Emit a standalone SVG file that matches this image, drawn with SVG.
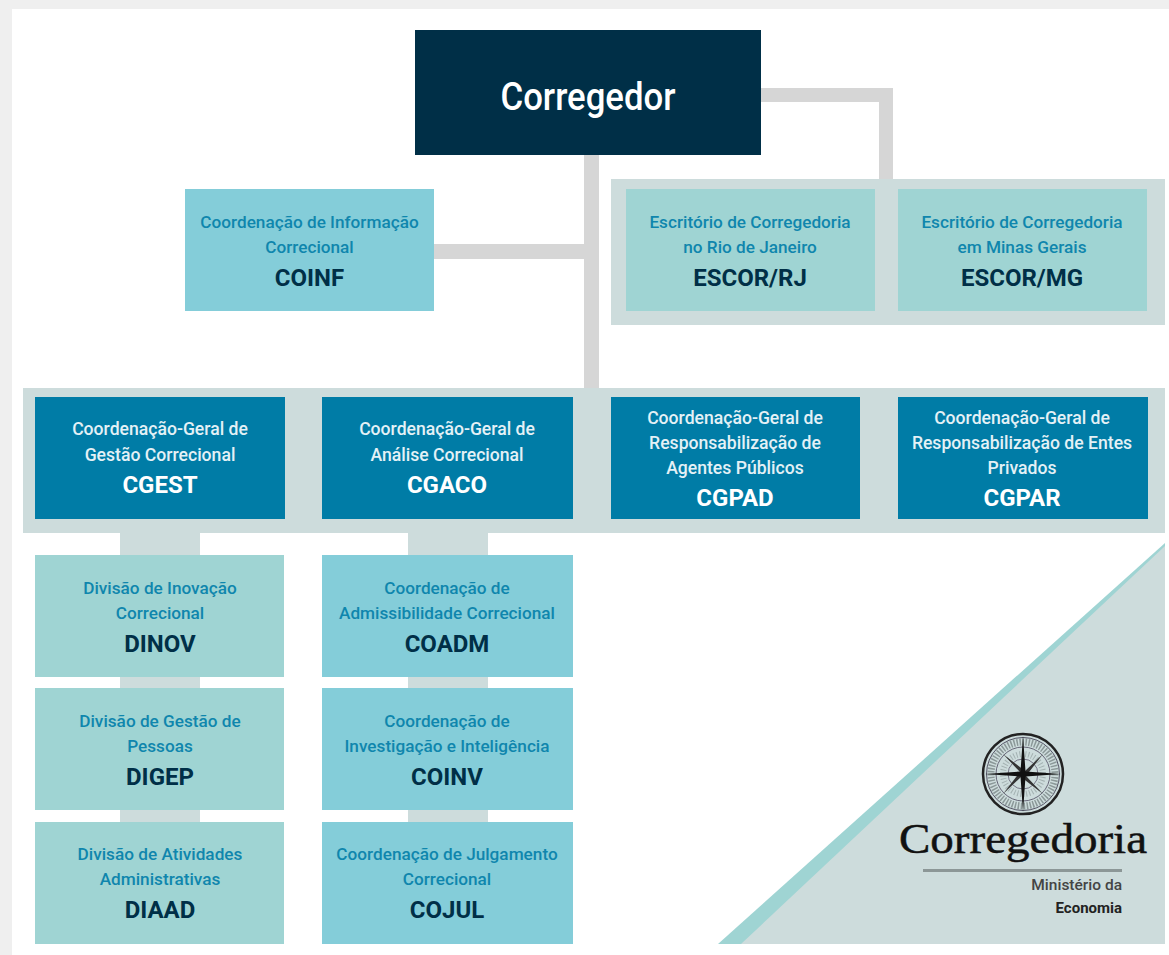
<svg xmlns="http://www.w3.org/2000/svg" width="1169" height="955" viewBox="0 0 1169 955">
<style>
text{font-family:"Roboto","Liberation Sans",sans-serif;text-anchor:middle}
.s{font-size:17.2px;font-weight:500;fill:#0f86ad}
.a{font-size:24px;font-weight:700;fill:#002f47}
.w{font-size:17.6px;font-weight:500;fill:#e4f1f6}
.aw{font-size:24px;font-weight:700;fill:#fff}
.c{fill:#d6d6d6}.b{fill:#cddcdc}
.t1{fill:#84cdd9}.t2{fill:#9fd4d3}.d{fill:#007ca6}
</style>
<rect width="1169" height="955" fill="#efefef"/>
<rect x="12" y="9" width="1157" height="946" fill="#fff"/>
<g id="connectors">
<rect class="c" x="761" y="88" width="132" height="14"/>
<rect class="c" x="879" y="88" width="14" height="92"/>
<rect class="c" x="584" y="155" width="15" height="233"/>
<rect class="c" x="434" y="244" width="152" height="15"/>
<rect class="b" x="120" y="532" width="80" height="24"/>
<rect class="b" x="408" y="532" width="80" height="24"/>
<rect class="b" x="120" y="677" width="80" height="12"/>
<rect class="b" x="120" y="810" width="80" height="12"/>
<rect class="b" x="408" y="677" width="80" height="12"/>
<rect class="b" x="408" y="810" width="80" height="12"/>
</g>
<g id="group-escor"><rect class="b" x="611" y="179" width="554" height="146"/></g>
<g id="group-cg"><rect class="b" x="23" y="388" width="1142" height="145"/></g>
<g id="corregedor"><rect x="415" y="30" width="346" height="125" fill="#002f47"/><text x="588" y="110" font-size="38" font-weight="500" fill="#fff" textLength="175" lengthAdjust="spacingAndGlyphs">Corregedor</text></g>
<g id="coinf"><rect class="t1" x="185" y="189" width="249" height="122"/><text class="s" x="309.500" y="228">Coordenação de Informação</text><text class="s" x="309.500" y="253">Correcional</text><text class="a" x="309.500" y="286">COINF</text></g>
<g id="escor-rj"><rect class="t2" x="626" y="189" width="249" height="122"/><text class="s" x="750" y="228">Escritório de Corregedoria</text><text class="s" x="750" y="253">no Rio de Janeiro</text><text class="a" x="750" y="286">ESCOR/RJ</text></g>
<g id="escor-mg"><rect class="t2" x="898" y="189" width="249" height="122"/><text class="s" x="1022" y="228">Escritório de Corregedoria</text><text class="s" x="1022" y="253">em Minas Gerais</text><text class="a" x="1022" y="286">ESCOR/MG</text></g>
<g id="cgest"><rect class="d" x="35" y="397" width="250" height="122"/><text class="w" x="160" y="435">Coordenação-Geral de</text><text class="w" x="160" y="461">Gestão Correcional</text><text class="aw" x="160" y="493">CGEST</text></g>
<g id="cgaco"><rect class="d" x="322" y="397" width="251" height="122"/><text class="w" x="447" y="435">Coordenação-Geral de</text><text class="w" x="447" y="461">Análise Correcional</text><text class="aw" x="447" y="493">CGACO</text></g>
<g id="cgpad"><rect class="d" x="611" y="397" width="249" height="122"/><text class="w" x="735" y="424">Coordenação-Geral de</text><text class="w" x="735" y="449">Responsabilização de</text><text class="w" x="735" y="474">Agentes Públicos</text><text class="aw" x="735" y="506">CGPAD</text></g>
<g id="cgpar"><rect class="d" x="898" y="397" width="250" height="122"/><text class="w" x="1022" y="424">Coordenação-Geral de</text><text class="w" x="1022" y="449">Responsabilização de Entes</text><text class="w" x="1022" y="474">Privados</text><text class="aw" x="1022" y="506">CGPAR</text></g>
<g id="dinov"><rect class="t2" x="35" y="555" width="249" height="122"/><text class="s" x="160" y="594">Divisão de Inovação</text><text class="s" x="160" y="619">Correcional</text><text class="a" x="160" y="652">DINOV</text></g>
<g id="digep"><rect class="t2" x="35" y="688" width="249" height="122"/><text class="s" x="160" y="727">Divisão de Gestão de</text><text class="s" x="160" y="752">Pessoas</text><text class="a" x="160" y="785">DIGEP</text></g>
<g id="diaad"><rect class="t2" x="35" y="822" width="249" height="122"/><text class="s" x="160" y="860">Divisão de Atividades</text><text class="s" x="160" y="885">Administrativas</text><text class="a" x="160" y="918">DIAAD</text></g>
<g id="coadm"><rect class="t1" x="322" y="555" width="251" height="122"/><text class="s" x="447" y="594">Coordenação de</text><text class="s" x="447" y="619">Admissibilidade Correcional</text><text class="a" x="447" y="652">COADM</text></g>
<g id="coinv"><rect class="t1" x="322" y="688" width="251" height="122"/><text class="s" x="447" y="727">Coordenação de</text><text class="s" x="447" y="752">Investigação e Inteligência</text><text class="a" x="447" y="785">COINV</text></g>
<g id="cojul"><rect class="t1" x="322" y="822" width="251" height="122"/><text class="s" x="447" y="860">Coordenação de Julgamento</text><text class="s" x="447" y="885">Correcional</text><text class="a" x="447" y="918">COJUL</text></g>
<polygon points="1165,543 1165,944 718,944" fill="#9fd4d3"/>
<polygon points="1165,546 1165,944 741,944" fill="#cddcdc"/>
<g id="logo" fill="none" stroke="#222">
<circle cx="1023" cy="774" r="32" stroke-width="7" stroke="#8b9898" stroke-dasharray="1.500 1.500"/>
<circle cx="1023" cy="774" r="20" stroke-width="6" stroke="#a4b2b2" stroke-dasharray="1 2"/>
<circle cx="1023" cy="774" r="40" stroke-width="2.500"/>
<circle cx="1023" cy="774" r="36.500" stroke-width="1" stroke="#556"/>
<circle cx="1023" cy="774" r="27" stroke-width="1" stroke="#667"/>
<circle cx="1023" cy="774" r="15" stroke-width="1" stroke="#778"/>
<path d="M1003 754L1025 771L1043 754L1026 776L1043 794L1021 777L1003 794L1020 772Z" fill="#333" stroke="none"/>
<path d="M1023 736L1025.500 771.500L1061 774L1025.500 776.500L1023 812L1020.500 776.500L985 774L1020.500 771.500Z" fill="#111" stroke="none"/>
<rect x="923" y="869" width="199" height="3" fill="#8c9797" stroke="none"/>
</g>
<text x="1023" y="853" font-size="43" fill="#111" stroke="#111" stroke-width="0.500" style="font-family:'Liberation Serif',serif" textLength="248" lengthAdjust="spacingAndGlyphs">Corregedoria</text>
<text x="1122" y="890" font-size="15.500" font-weight="500" fill="#444" style="text-anchor:end">Ministério da</text>
<text x="1122" y="913" font-size="15" font-weight="700" fill="#222" style="text-anchor:end">Economia</text>
</svg>
